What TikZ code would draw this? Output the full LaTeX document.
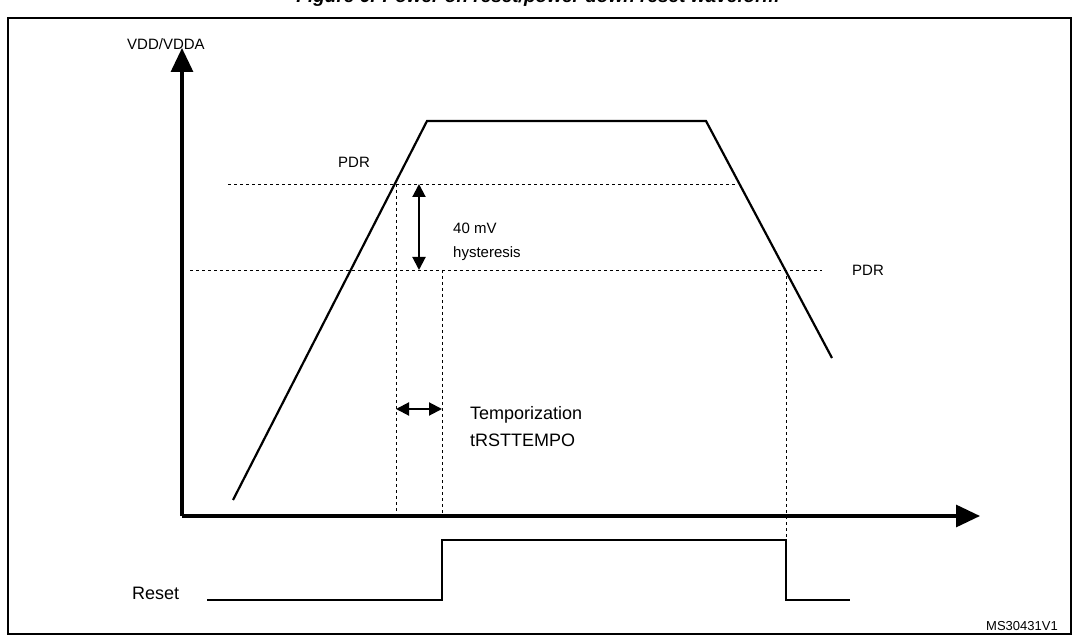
\documentclass[tikz,border=0pt]{standalone}
\usepackage{fontspec}
\setmainfont{Liberation Sans}
\usetikzlibrary{arrows.meta}
\begin{document}
\begin{tikzpicture}[x=1pt,y=-1pt]
\tikzset{
    wave/.style={line width=2.2pt},
    guide/.style={dashed, line width=0.9pt},
    axis/.style={line width=3.2pt, -{Triangle[length=24pt,width=22pt]}},
    span/.style={line width=2pt, {Triangle[length=13pt,width=13pt]}-{Triangle[length=13pt,width=13pt]}},
    lbl/.style={font=\fontsize{15}{18}\selectfont, inner sep=0pt}
}
\useasboundingbox (0,0) rectangle (1077,636);
\begin{scope}
\clip (0,0) rectangle (1077,636);
\node[font=\bfseries\itshape\fontsize{19}{22}\selectfont] (title) at (538,-2) {Figure 6. Power on reset/power down reset waveform};
\end{scope}
\draw[line width=1.3pt] (8,18) rectangle (1071,634);
% axes
\coordinate (origin) at (182,516);
\coordinate (ytop) at (182,48);
\coordinate (xend) at (980,516);
\draw[axis] (origin) -- (ytop);
\draw[axis] (origin) -- (xend);
\node[lbl] (vdd) at (166,44) {VDD/VDDA};
% supply waveform
\draw[wave] (233,500) -- (427,121) -- (706,121) -- (832,358);
% thresholds
\draw[guide] (228,184) -- (738,184);
\draw[guide] (190,270) -- (822,270);
\node[lbl] (pdr1) at (354,162) {PDR};
\node[lbl] (pdr2) at (868,270) {PDR};
\draw[guide] (396,184) -- (396,516);
\draw[guide] (442,270) -- (442,516);
\draw[guide] (786,270) -- (786,600);
% hysteresis
\coordinate (hyA) at (419,184);
\coordinate (hyB) at (419,270);
\draw[span] (hyA) -- (hyB);
\node[lbl, anchor=west] (mv) at (453,228) {40 mV};
\node[lbl, anchor=west] (hys) at (453,254) {hysteresis};
% temporization
\coordinate (tA) at (396,409);
\coordinate (tB) at (442,409);
\draw[span] (tA) -- (tB);
\node[lbl, anchor=west, font=\fontsize{18}{21}\selectfont] (temp) at (470,415) {Temporization};
\node[lbl, anchor=west, font=\fontsize{18}{21}\selectfont] (trst) at (470,440) {tRSTTEMPO};
% reset
\node[lbl, anchor=west, font=\fontsize{18}{21}\selectfont] (reset) at (132,593) {Reset};
\draw[wave] (207,600) -- (442,600) -- (442,540) -- (786,540) -- (786,600) -- (850,600);
\node[lbl, font=\fontsize{13}{15}\selectfont] (ref) at (1022,626) {MS30431V1};
\end{tikzpicture}
\end{document}
